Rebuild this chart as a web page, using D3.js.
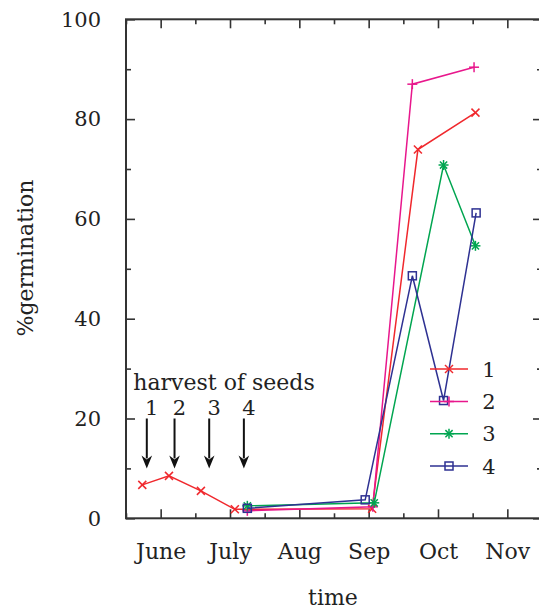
<!DOCTYPE html>
<html>
<head>
<meta charset="utf-8">
<script src="https://cdn.jsdelivr.net/npm/d3@7"></script>
<style>
  html, body { margin: 0; padding: 0; background: #fff; }
  svg text { font-family: "DejaVu Serif", serif; fill: #222; }
</style>
</head>
<body>
<svg id="chart" width="539" height="610"></svg>
<script>
// ---- data ----
const months = ["June", "July", "Aug", "Sep", "Oct", "Nov"];
const monthPos = [6, 7, 8, 9, 10, 11];
const minorXTicks = [5.5, 6.5, 7.5, 8.5, 9.5, 10.5, 11.5];
const yTicks = [0, 20, 40, 60, 80, 100];
const minorYTicks = [10, 30, 50, 70, 90];

const s1x = [5.735, 6.12, 6.58, 7.07, 9.05, 9.71, 10.54];
const s1y = [6.7, 8.5, 5.5, 1.8, 1.9, 73.9, 81.3];
const s2x = [7.25, 9.06, 9.63, 10.52];
const s2y = [1.5, 2.3, 87.0, 90.4];
const s3x = [7.25, 9.08, 10.08, 10.54];
const s3y = [2.5, 3.1, 70.8, 54.6];
const s4x = [7.25, 8.95, 9.63, 10.08, 10.55];
const s4y = [2.0, 3.7, 48.6, 23.6, 61.2];

const seriesNames = ["1", "2", "3", "4"];
const seriesColors = ["#f0282d", "#e8178c", "#00a550", "#2e3192"];
const seriesMarkers = ["x", "plus", "star", "square"];

const harvestX = [5.80, 6.20, 6.70, 7.20];
const harvestLabels = ["1", "2", "3", "4"];
const harvestTitle = "harvest of seeds";
const harvestArrowTop = 20;
const harvestArrowTip = 10;
const harvestNumY = 20.8;
const harvestTitleY = 25.8;

// ---- layout ----
const svg = d3.select("#chart");
const mLeft = 126, mRight = 542, mTop = 19.3, mBottom = 518.3;
const x = d3.scaleLinear().domain([5.5, 11.5]).range([mLeft, mRight]);
const y = d3.scaleLinear().domain([0, 100]).range([mBottom, mTop]);
const FS = 22;   // words
const FN = 21;   // numbers

// ---- axes ----
function styleAxis(g, fs) {
  g.select(".domain").remove();
  g.selectAll(".tick line").attr("stroke", "#333").attr("stroke-width", 1.6);
  g.selectAll("text").attr("font-size", (fs || FN) + "px").attr("fill", "#222")
    .style("font-family", '"DejaVu Serif", serif');
}
svg.append("g").attr("transform", `translate(0,${mBottom})`)
  .call(d3.axisBottom(x).tickValues(monthPos).tickSize(-9).tickPadding(25)
    .tickFormat((d, i) => months[i])).call(styleAxis, FS);
svg.append("g").attr("transform", `translate(0,${mBottom})`)
  .call(d3.axisBottom(x).tickValues(minorXTicks).tickSize(-5).tickFormat("")).call(styleAxis);
svg.append("g").attr("transform", `translate(0,${mTop})`)
  .call(d3.axisTop(x).tickValues(monthPos).tickSize(-9).tickFormat("")).call(styleAxis);
svg.append("g").attr("transform", `translate(0,${mTop})`)
  .call(d3.axisTop(x).tickValues(minorXTicks).tickSize(-5).tickFormat("")).call(styleAxis);
svg.append("g").attr("transform", `translate(${mLeft},0)`)
  .call(d3.axisLeft(y).tickValues(yTicks).tickSize(-9).tickPadding(25)).call(styleAxis, FN);
svg.append("g").attr("transform", `translate(${mLeft},0)`)
  .call(d3.axisLeft(y).tickValues(minorYTicks).tickSize(-5).tickFormat("")).call(styleAxis);
svg.append("g").attr("transform", `translate(${mRight},0)`)
  .call(d3.axisRight(y).tickValues(yTicks).tickSize(-9).tickFormat("")).call(styleAxis);
svg.append("g").attr("transform", `translate(${mRight},0)`)
  .call(d3.axisRight(y).tickValues(minorYTicks).tickSize(-5).tickFormat("")).call(styleAxis);

// frame
svg.append("rect").attr("x", mLeft).attr("y", mTop)
  .attr("width", mRight - mLeft).attr("height", mBottom - mTop)
  .attr("fill", "none").attr("stroke", "#333").attr("stroke-width", 2);

// axis titles
svg.append("text").attr("x", 333).attr("y", 605)
  .attr("text-anchor", "middle").attr("font-size", FS + "px").text("time");
svg.append("text").attr("transform", "translate(33,258) rotate(-90)")
  .attr("text-anchor", "middle").attr("font-size", FS + "px").text("%germination");

// ---- markers ----
function drawMarker(g, type, cx, cy, color) {
  const m = g.append("g").attr("transform", `translate(${cx},${cy})`)
    .attr("stroke", color).attr("stroke-width", 1.5).attr("fill", "none");
  if (type === "x" || type === "star") {
    const s = type === "x" ? 4 : 3.6;
    m.append("line").attr("x1", -s).attr("y1", -s).attr("x2", s).attr("y2", s);
    m.append("line").attr("x1", -s).attr("y1", s).attr("x2", s).attr("y2", -s);
  }
  if (type === "plus" || type === "star") {
    const s = 5;
    m.append("line").attr("x1", -s).attr("y1", 0).attr("x2", s).attr("y2", 0);
    m.append("line").attr("x1", 0).attr("y1", -s).attr("x2", 0).attr("y2", s);
  }
  if (type === "square") {
    m.append("rect").attr("x", -4).attr("y", -4).attr("width", 8).attr("height", 8);
  }
}

// ---- series ----
const allX = [s1x, s2x, s3x, s4x];
const allY = [s1y, s2y, s3y, s4y];
const line = d3.line().x(d => x(d[0])).y(d => y(d[1]));
allX.forEach((xs, k) => {
  const pts = xs.map((v, i) => [v, allY[k][i]]);
  const g = svg.append("g");
  g.append("path").attr("d", line(pts)).attr("fill", "none")
    .attr("stroke", seriesColors[k]).attr("stroke-width", 1.5);
  pts.forEach(p => drawMarker(g, seriesMarkers[k], x(p[0]), y(p[1]), seriesColors[k]));
});

// ---- legend ----
const legRowY = [369, 401.5, 433.7, 466];
seriesNames.forEach((n, k) => {
  const g = svg.append("g");
  g.append("line").attr("x1", 430).attr("x2", 468).attr("y1", legRowY[k]).attr("y2", legRowY[k])
    .attr("stroke", seriesColors[k]).attr("stroke-width", 1.5);
  drawMarker(g, seriesMarkers[k], 449, legRowY[k], seriesColors[k]);
  g.append("text").attr("x", 489).attr("y", legRowY[k]).attr("dy", "0.36em")
    .attr("text-anchor", "middle").attr("font-size", FN + "px").text(n);
});

// ---- harvest annotation ----
const ann = svg.append("g");
ann.append("text").attr("x", 224)
  .attr("y", y(harvestTitleY)).attr("text-anchor", "middle")
  .attr("font-size", FS + "px").text(harvestTitle);
harvestX.forEach((hx, i) => {
  const px = x(hx);
  ann.append("text").attr("x", px + 5).attr("y", y(harvestNumY))
    .attr("text-anchor", "middle").attr("font-size", FN + "px").text(harvestLabels[i]);
  ann.append("line").attr("x1", px).attr("x2", px)
    .attr("y1", y(harvestArrowTop)).attr("y2", y(harvestArrowTip) - 10)
    .attr("stroke", "#111").attr("stroke-width", 2);
  const tipY = y(harvestArrowTip);
  ann.append("path")
    .attr("d", `M${px},${tipY} L${px - 5.3},${tipY - 13} L${px},${tipY - 9} L${px + 5.3},${tipY - 13} Z`)
    .attr("fill", "#111");
});
</script>
</body>
</html>
